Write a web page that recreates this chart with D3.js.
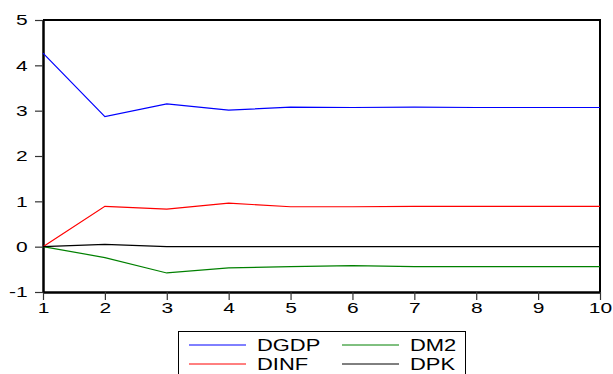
<!DOCTYPE html>
<html>
<head>
<meta charset="utf-8">
<script src="https://cdn.jsdelivr.net/npm/d3@7"></script>
<style>
  body { margin: 0; background: #fff; }
  svg { display: block; font-family: "Liberation Sans", Arial, sans-serif; }
</style>
</head>
<body>
<div id="chart"></div>
<script>
// data
const periods = [1, 2, 3, 4, 5, 6, 7, 8, 9, 10];
const dgdp = [4.27, 2.87, 3.15, 3.01, 3.08, 3.07, 3.08, 3.07, 3.07, 3.07];
const dinf = [0, 0.89, 0.83, 0.96, 0.88, 0.88, 0.89, 0.89, 0.89, 0.89];
const dm2 = [0, -0.24, -0.58, -0.47, -0.44, -0.42, -0.44, -0.44, -0.44, -0.44];
const dpk = [0, 0.05, 0, 0, 0, 0, 0, 0, 0, 0];
const yTicks = [-1, 0, 1, 2, 3, 4, 5];

const w = 613;
const h = 374;
const plotLeft = 43, plotRight = 600, plotTop = 20, plotBottom = 292;

const svg = d3.select("#chart").append("svg")
  .attr("width", w)
  .attr("height", h);

const x = d3.scaleLinear().domain([1, 10]).range([plotLeft, plotRight]);
const y = d3.scaleLinear().domain([-1, 5]).range([plotBottom, plotTop]);

// frame (top + right)
svg.append("path")
  .attr("d", `M${plotLeft},${plotTop}H${plotRight}V${plotBottom}`)
  .attr("fill", "none")
  .attr("stroke", "#000")
  .attr("stroke-width", 2);

// axes - plain hyphen for negatives like the original
const fmt = d => String(d);
const xAxis = svg.append("g")
  .attr("transform", "translate(0," + plotBottom + ")")
  .call(d3.axisBottom(x).tickValues(periods).tickFormat(fmt).tickSize(8).tickPadding(2).tickSizeOuter(0));
const yAxis = svg.append("g")
  .attr("transform", "translate(" + plotLeft + ",0)")
  .call(d3.axisLeft(y).tickValues(yTicks).tickFormat(fmt).tickSize(8).tickPadding(3).tickSizeOuter(0));

[xAxis, yAxis].forEach(g => {
  g.select(".domain").attr("stroke", "#000").attr("stroke-width", 2.5);
  g.selectAll(".tick line").attr("stroke", "#333").attr("stroke-width", 1.2);
  g.selectAll(".tick text")
    .attr("fill", "#000")
    .style("font-size", "15px");
});
// stretched glyphs like the original
xAxis.selectAll(".tick text").attr("transform", "scale(1.4,1)");
yAxis.selectAll(".tick text").attr("transform", "scale(1.4,1)");

// series
const series = [
  { name: "DGDP", values: dgdp, color: "#0000ff" },
  { name: "DINF", values: dinf, color: "#ff0000" },
  { name: "DM2", values: dm2, color: "#008000" },
  { name: "DPK", values: dpk, color: "#000000" }
];

const line = d3.line()
  .x((d, i) => x(periods[i]))
  .y(d => y(d));

svg.selectAll(".series").data(series).enter().append("path")
  .attr("class", "series")
  .attr("d", d => line(d.values))
  .attr("fill", "none")
  .attr("stroke", d => d.color)
  .attr("stroke-width", 1.2);

// legend
const legend = svg.append("g");
legend.append("rect")
  .attr("x", 178.5)
  .attr("y", 331.5)
  .attr("width", 287)
  .attr("height", 60)
  .attr("fill", "#fff")
  .attr("stroke", "#000")
  .attr("stroke-width", 1);

const legendPos = [
  { s: series[0], lx: 189, ly: 345 },
  { s: series[2], lx: 342, ly: 345 },
  { s: series[1], lx: 189, ly: 364 },
  { s: series[3], lx: 342, ly: 364 }
];
legendPos.forEach(p => {
  legend.append("line")
    .attr("x1", p.lx).attr("x2", p.lx + 57)
    .attr("y1", p.ly).attr("y2", p.ly)
    .attr("stroke", p.s.color)
    .attr("stroke-width", 1);
  legend.append("text")
    .attr("transform", "translate(" + (p.lx + 68) + "," + (p.ly + 6) + ") scale(1.37,1)")
    .style("font-size", "16px")
    .attr("fill", "#000")
    .text(p.s.name);
});
</script>
</body>
</html>
